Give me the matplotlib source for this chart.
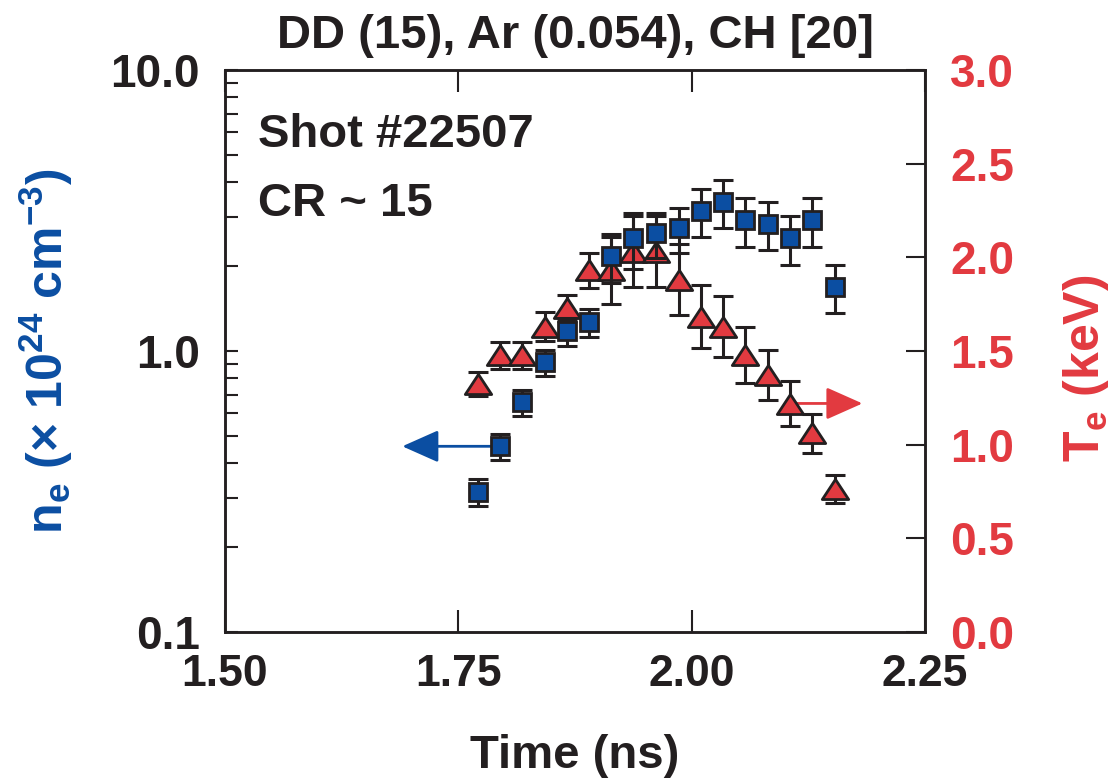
"""Electron density and temperature vs time, shot #22507."""

import matplotlib
matplotlib.use("Agg")
import matplotlib.pyplot as plt
from matplotlib.ticker import FixedLocator, LogLocator, NullFormatter

# --- data ---
time_ns = [1.771, 1.795, 1.818, 1.843, 1.866, 1.890, 1.914, 1.937, 1.962,
           1.986, 2.010, 2.034, 2.057, 2.082, 2.105, 2.129, 2.154]
ne = [0.316, 0.458, 0.657, 0.912, 1.176, 1.266, 2.17, 2.53, 2.62,
      2.73, 3.16, 3.40, 2.92, 2.83, 2.53, 2.92, 1.69]
ne_err = [0.035, 0.05, 0.07, 0.10, 0.13, 0.14, 0.43, 0.57, 0.48,
          0.50, 0.62, 0.67, 0.57, 0.55, 0.50, 0.57, 0.33]
te = [1.326, 1.477, 1.477, 1.630, 1.729, 1.930, 1.930, 2.030, 2.030,
      1.880, 1.683, 1.630, 1.478, 1.372, 1.219, 1.060, 0.761]
te_err = [0.064, 0.072, 0.072, 0.078, 0.070, 0.095, 0.18, 0.19, 0.19,
          0.19, 0.167, 0.163, 0.148, 0.134, 0.121, 0.106, 0.075]

x_ticks = [1.50, 1.75, 2.00, 2.25]
ne_ticks = [0.1, 1.0, 10.0]
te_ticks = [0.0, 0.5, 1.0, 1.5, 2.0, 2.5, 3.0]

BLUE = "#0b4ea2"
RED = "#e23a40"
BLACK = "#231f20"

plt.rcParams["font.family"] = ["Liberation Sans", "DejaVu Sans"]
plt.rcParams["font.weight"] = "bold"
plt.rcParams["mathtext.fontset"] = "custom"
plt.rcParams["mathtext.rm"] = "Liberation Sans"
plt.rcParams["mathtext.bf"] = "Liberation Sans:bold"
plt.rcParams["mathtext.it"] = "Liberation Sans:bold"
plt.rcParams["mathtext.default"] = "bf"

fig = plt.figure(figsize=(11.17, 7.82), dpi=100)
ax = fig.add_axes([0.2014, 0.1918, 0.6267, 0.7187])
ax2 = ax.twinx()
ax.set_zorder(ax2.get_zorder() + 1)
ax.patch.set_visible(False)

# Te (right axis) - wide flat triangles
tri = [(0, 0.76), (-1, -0.76), (1, -0.76), (0, 0.76)]
ax2.errorbar(time_ns, te, yerr=te_err, fmt="none", ecolor=BLACK,
             elinewidth=2.2, capsize=7, capthick=2.2, zorder=2)
ax2.plot(time_ns, te, linestyle="none", marker=tri, ms=19, mfc=RED,
         mec=BLACK, mew=2, zorder=3)
ax2.annotate("", xy=(2.183, 1.22), xytext=(2.112, 1.22),
             arrowprops=dict(arrowstyle="-|>,head_length=0.9,head_width=0.4",
                             color=RED, lw=2, mutation_scale=25,
                             shrinkA=0, shrinkB=0), zorder=1)

# ne (left axis, log)
ax.annotate("", xy=(1.69, 0.458), xytext=(1.79, 0.458),
            arrowprops=dict(arrowstyle="-|>,head_length=0.9,head_width=0.4",
                            color=BLUE, lw=2, mutation_scale=25,
                            shrinkA=0, shrinkB=0), zorder=1)
ax.errorbar(time_ns, ne, yerr=ne_err, fmt="none", ecolor=BLACK,
            elinewidth=2.2, capsize=7, capthick=2.2, zorder=4)
ax.plot(time_ns, ne, linestyle="none", marker="s", ms=13.5, mfc=BLUE,
        mec=BLACK, mew=2, zorder=5)

ax.set_xlim(1.5, 2.25)
ax.set_yscale("log")
ax.set_ylim(0.1, 10.0)
ax2.set_ylim(0.0, 3.0)

ax.xaxis.set_major_locator(FixedLocator(x_ticks))
ax.set_xticklabels([f"{v:.2f}" for v in x_ticks], fontsize=32,
                   fontweight="bold", color=BLACK)
ax.yaxis.set_major_locator(FixedLocator(ne_ticks))
ax.set_yticklabels([f"{v:.1f}" for v in ne_ticks], fontsize=33,
                   fontweight="bold", color=BLACK)
ax.yaxis.set_minor_locator(LogLocator(base=10, subs=range(2, 10)))
ax.yaxis.set_minor_formatter(NullFormatter())
ax2.yaxis.set_major_locator(FixedLocator(te_ticks))
ax2.set_yticklabels([f"{v:.1f}" for v in te_ticks], fontsize=33,
                    fontweight="bold", color=RED)

ax.tick_params(axis="x", which="both", direction="in", top=True,
               length=16, width=1.5, color=BLACK, pad=16)
ax.tick_params(axis="y", which="both", direction="in", length=9,
               width=1.5, color=BLACK, pad=18)
ax2.tick_params(axis="y", direction="in", length=14, width=1.5,
                color=BLACK, pad=18)
for a in (ax, ax2):
    for s in a.spines.values():
        s.set_linewidth(1.8)
        s.set_color(BLACK)

ax.set_title("DD (15), Ar (0.054), CH [20]", fontsize=34,
             fontweight="bold", color=BLACK, pad=16)
ax.set_xlabel("Time (ns)", fontsize=34, fontweight="bold",
              color=BLACK, labelpad=28)
ax.set_ylabel(r"n$_\mathbf{e}$ $\mathrm{(\times}$ 10$^\mathbf{24}$ "
              r"cm$^\mathbf{-3}\mathrm{)}$",
              fontsize=36, fontweight="bold", color=BLUE)
ax.yaxis.set_label_coords(-0.214, 0.5)
ax2.set_ylabel(r"T$_\mathbf{e}$ (keV)", fontsize=36, fontweight="bold",
               color=RED, rotation=90)
ax2.yaxis.set_label_coords(1.195, 0.47)

ax.text(0.047, 0.863, "Shot #22507", transform=ax.transAxes, fontsize=34,
        fontweight="bold", color=BLACK)
ax.text(0.047, 0.74, "CR ~ 15", transform=ax.transAxes, fontsize=34,
        fontweight="bold", color=BLACK)

fig.savefig("out.png", dpi=100)
